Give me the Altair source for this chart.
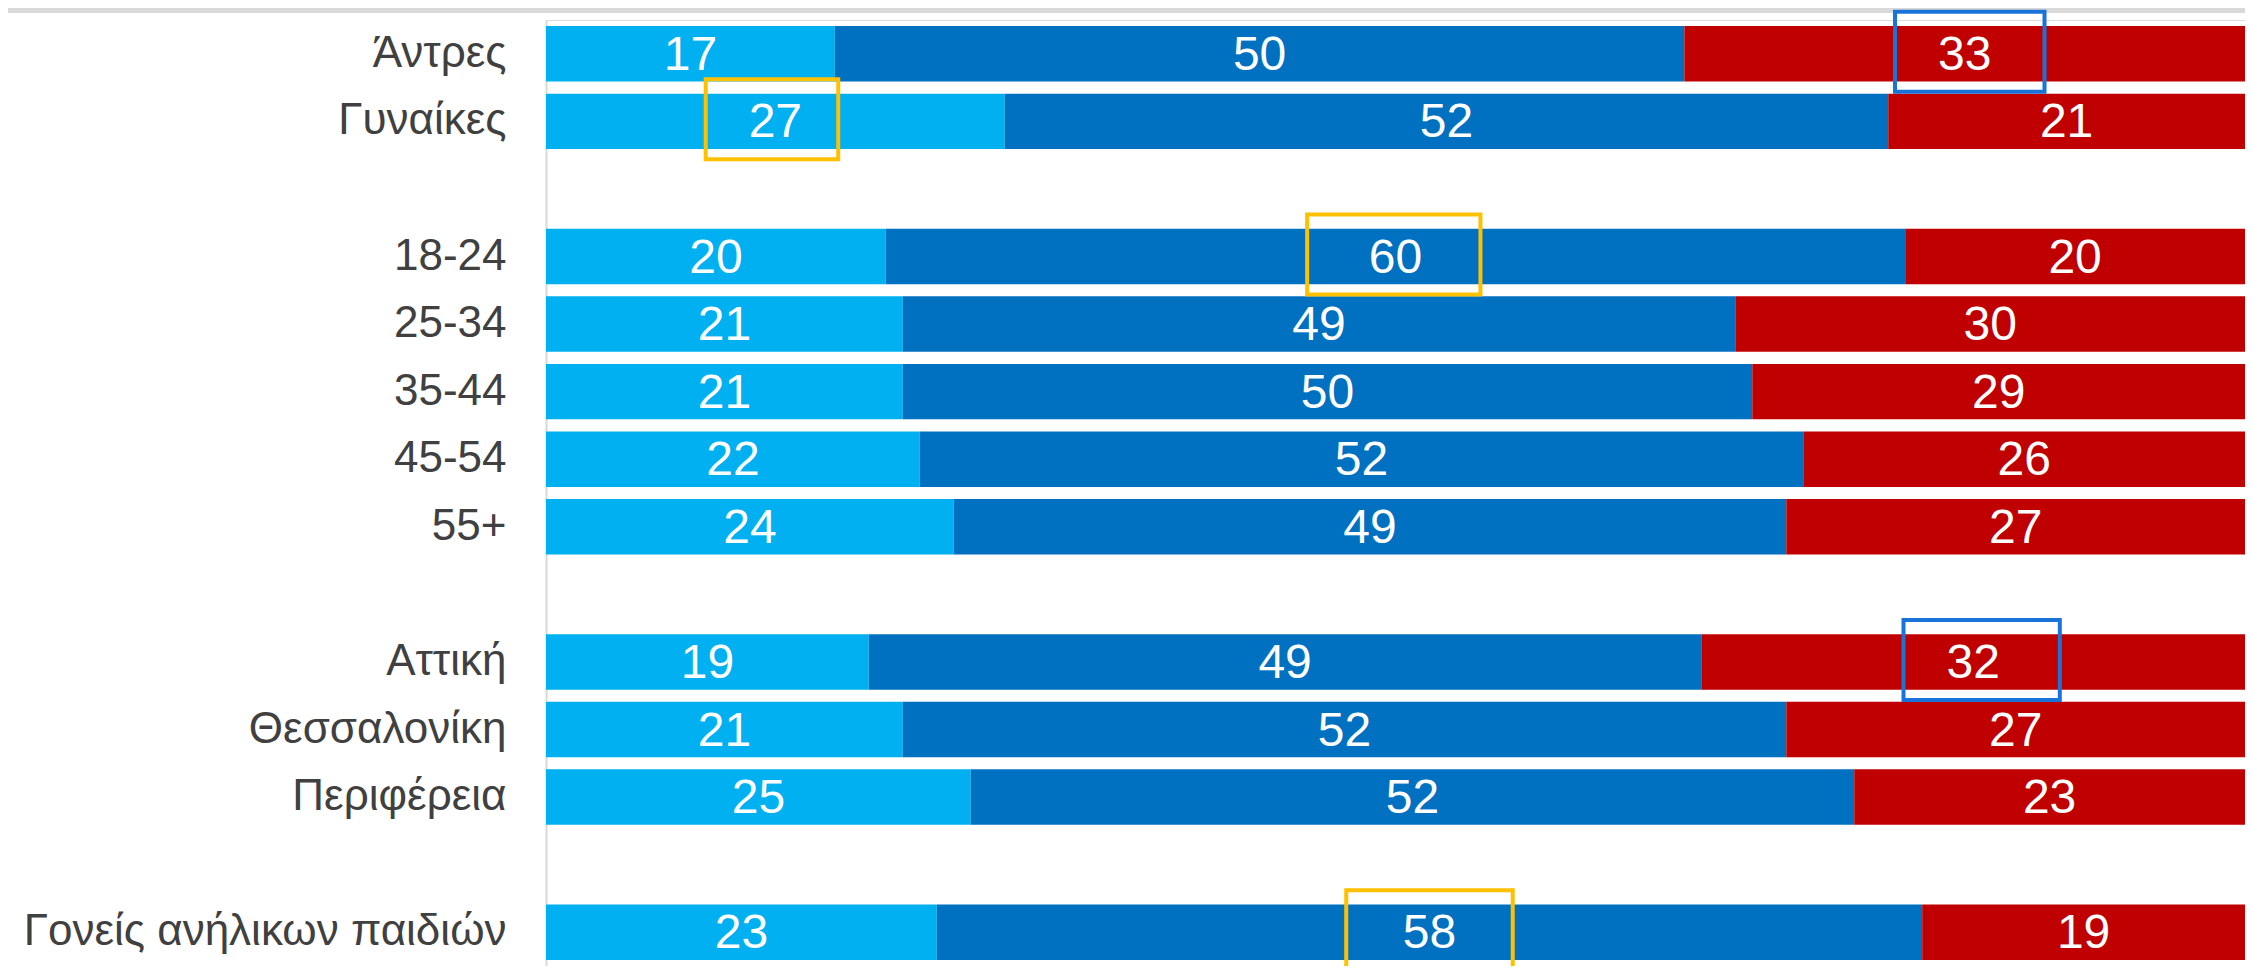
import altair as alt
import pandas as pd

# ---- data ----
categories = ["Άντρες\u00a0", "Γυναίκες", "18-24", "25-34", "35-44", "45-54", "55+",
              "Αττική", "Θεσσαλονίκη", "Περιφέρεια", "Γονείς ανήλικων παιδιών"]
light_vals = [17, 27, 20, 21, 21, 22, 24, 19, 21, 25, 23]
mid_vals = [50, 52, 60, 49, 50, 52, 49, 49, 52, 52, 58]
red_vals = [33, 21, 20, 30, 29, 26, 27, 32, 27, 23, 19]

series = ["light", "mid", "red"]
series_colors = ["#00B0F0", "#0070C0", "#C00000"]

gaps = [" ", "  ", "   "]
y_order = [categories[0], categories[1], gaps[0],
           *categories[2:7], gaps[1],
           *categories[7:10], gaps[2],
           categories[10]]

# highlight boxes (category, x start %, x end %, colour)
box_cats = [categories[1], categories[0], categories[2], categories[7], categories[10]]
box_x0 = [9.4, 79.4, 44.8, 79.9, 47.1]
box_x1 = [17.2, 88.2, 55.0, 89.1, 56.9]
box_colors = ["#FFC000", "#1A73D9", "#FFC000", "#1A73D9", "#FFC000"]

rows = []
for c, a, b, r in zip(categories, light_vals, mid_vals, red_vals):
    for i, (s, v) in enumerate(zip(series, [a, b, r])):
        rows.append({"cat": c, "series": s, "value": v, "ord": i})
df = pd.DataFrame(rows)

boxes = pd.DataFrame({"cat": box_cats, "x0": box_x0, "x1": box_x1, "col": box_colors})

FONT = "Liberation Sans Narrow, Arial Narrow, Liberation Sans, Arial, sans-serif"

yscale = alt.Scale(domain=y_order, paddingInner=0.18, paddingOuter=0.09)
xscale = alt.Scale(domain=[0, 100], nice=False, zero=True)

y_axis = alt.Axis(
    title=None, ticks=False, labelFont=FONT, labelFontSize=44, labelColor="#404040",
    labelPadding=40, labelLimit=700, domainColor="#D9D9D9", domainWidth=2,
    labelOverlap=False,
)

base = alt.Chart(df).transform_stack(
    stack="value", groupby=["cat"], as_=["x0", "x1"],
    sort=[alt.SortField("ord", order="ascending")],
).transform_calculate(mid="(datum.x0 + datum.x1) / 2")

ydef = dict(field="cat", type="nominal", scale=yscale, sort=y_order)

bars = base.mark_bar().encode(
    y=alt.Y(axis=y_axis, **ydef),
    x=alt.X("x0:Q", scale=xscale, axis=None),
    x2="x1:Q",
    color=alt.Color("series:N", scale=alt.Scale(domain=series, range=series_colors), legend=None),
)

labels = base.mark_text(color="white", font=FONT, fontSize=48, baseline="middle", dy=2).encode(
    y=alt.Y(**ydef),
    x=alt.X("mid:Q", scale=xscale, axis=None),
    text=alt.Text("value:Q"),
)

box_layer = alt.Chart(boxes).mark_bar(fillOpacity=0, strokeWidth=4, size=80, yOffset=-2).encode(
    y=alt.Y(**ydef),
    x=alt.X("x0:Q", scale=xscale, axis=None),
    x2="x1:Q",
    stroke=alt.Stroke("col:N", scale=None),
)

top_band = alt.Chart(pd.DataFrame({"a": [0]})).mark_rect(color="#D9D9D9").encode(
    x=alt.value(-546), x2=alt.value(1699), y=alt.value(-12), y2=alt.value(-7)
)

chart = alt.layer(top_band, bars, labels, box_layer).properties(
    width=1699, height=946,
    padding={"left": 538, "top": 12, "right": 0, "bottom": 0},
    autosize=alt.AutoSizeParams(type="none"),
).configure_view(stroke=None).configure(background="white")

chart.save("out.html", embed_options={"renderer": "svg", "actions": False})
